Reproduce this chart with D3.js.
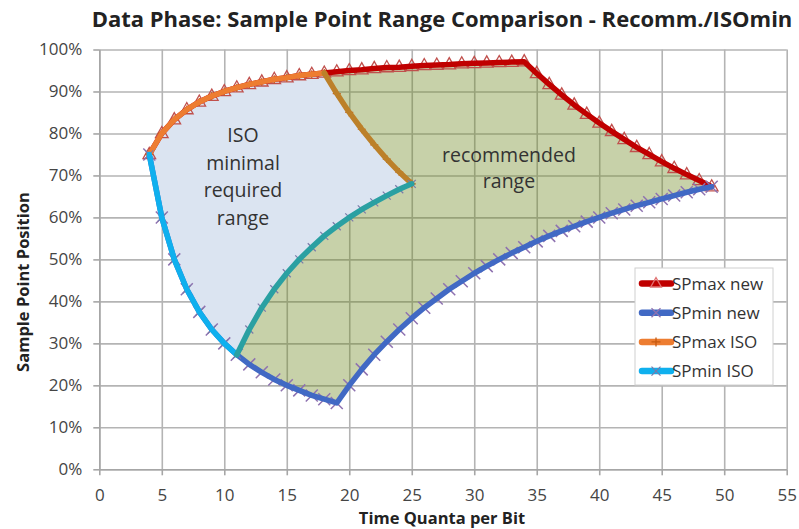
<!DOCTYPE html>
<html>
<head>
<meta charset="utf-8">
<script src="https://cdn.jsdelivr.net/npm/d3@7"></script>
<style>
body { margin: 0; background: #fff; }
text { font-family: "Open Sans", sans-serif; }
</style>
</head>
<body>
<div id="chart"></div>
<script>
// Time quanta per bit
var tqNew = [4,5,6,7,8,9,10,11,12,13,14,15,16,17,18,19,20,21,22,23,24,25,26,27,28,29,30,31,32,33,34,35,36,37,38,39,40,41,42,43,44,45,46,47,48,49];
var tqIso = [4,5,6,7,8,9,10,11,12,13,14,15,16,17,18,19,20,21,22,23,24,25];

// sample point, percent
var spMaxNew = [75.0,80.0,83.3,85.7,87.5,88.9,90.0,90.9,91.7,92.3,92.9,93.3,93.8,94.1,94.4,94.7,95.0,95.2,95.5,95.7,95.8,96.0,96.2,96.3,96.4,96.6,96.7,96.8,96.9,97.0,97.1,94.3,91.7,89.2,86.8,84.6,82.5,80.5,78.6,76.7,75.0,73.3,71.7,70.2,68.8,67.3];
var spMinNew = [75.0,60.0,50.0,42.9,37.5,33.3,30.0,27.3,25.0,23.1,21.4,20.0,18.8,17.6,16.7,15.8,20.0,23.8,27.3,30.4,33.3,36.0,38.5,40.7,42.9,44.8,46.7,48.4,50.0,51.5,52.9,54.3,55.6,56.8,57.9,59.0,60.0,61.0,61.9,62.8,63.6,64.4,65.2,66.0,66.7,67.3];
var spMaxIso = [75.0,80.0,83.3,85.7,87.5,88.9,90.0,90.9,91.7,92.3,92.9,93.3,93.8,94.1,94.4,89.5,85.0,81.0,77.3,73.9,70.8,68.0];
var spMinIso = [75.0,60.0,50.0,42.9,37.5,33.3,30.0,27.3,33.3,38.5,42.9,46.7,50.0,52.9,55.6,57.9,60.0,61.9,63.6,65.2,66.7,68.0];

var xTicks = [0,5,10,15,20,25,30,35,40,45,50,55];
var yTicks = [0,10,20,30,40,50,60,70,80,90,100];
var seriesNames = ["SPmax new","SPmin new","SPmax ISO","SPmin ISO"];
var isoLabel = ["ISO","minimal","required","range"];
var recLabel = ["recommended","range"];

var W = 799, H = 529;
var plotL = 99.3, plotR = 786.7, plotT = 49.5, plotB = 469.3;

var svg = d3.select("#chart").append("svg")
	.attr("width", W)
	.attr("height", H);

var x = d3.scaleLinear().domain([0, 55]).range([plotL, plotR]);
var y = d3.scaleLinear().domain([0, 100]).range([plotB, plotT]);

function pts(xs, ys) {
	return xs.map(function(d, i) { return [d, ys[i]]; });
}
var maxNew = pts(tqNew, spMaxNew),
	minNew = pts(tqNew, spMinNew),
	maxIso = pts(tqIso, spMaxIso),
	minIso = pts(tqIso, spMinIso);

var line = d3.line()
	.x(function(d) { return x(d[0]); })
	.y(function(d) { return y(d[1]); });

// gridlines
svg.append("g")
	.attr("transform", "translate(0," + plotB + ")")
	.call(d3.axisBottom(x).tickValues(xTicks).tickSize(-(plotB - plotT)).tickFormat(""))
	.call(function(g) { g.select(".domain").remove(); })
	.selectAll("line").attr("stroke", "#b4b4b4").attr("stroke-width", 1.6);

svg.append("g")
	.attr("transform", "translate(" + plotL + ",0)")
	.call(d3.axisLeft(y).tickValues(yTicks).tickSize(-(plotR - plotL)).tickFormat(""))
	.call(function(g) { g.select(".domain").remove(); })
	.selectAll("line").attr("stroke", "#b4b4b4").attr("stroke-width", 1.6);

// axes with labels
var xAxis = svg.append("g")
	.attr("transform", "translate(0," + plotB + ")")
	.call(d3.axisBottom(x).tickValues(xTicks).tickSize(6).tickPadding(14).tickSizeOuter(0));
var yAxis = svg.append("g")
	.attr("transform", "translate(" + plotL + ",0)")
	.call(d3.axisLeft(y).tickValues(yTicks).tickSize(6).tickPadding(11).tickSizeOuter(0)
		.tickFormat(function(d) { return d + "%"; }));

[xAxis, yAxis].forEach(function(a) {
	a.select(".domain").attr("stroke", "#a6a6a6").attr("stroke-width", 1.6);
	a.selectAll(".tick line").attr("stroke", "#a6a6a6").attr("stroke-width", 1.6);
	a.selectAll(".tick text")
		.attr("fill", "#454545")
		.style("font-family", "'Open Sans', sans-serif")
		.style("font-size", "17px");
});

// recommended range (green, see-through) then ISO range (light blue)
svg.append("path")
	.attr("d", line(maxNew.concat(minNew.slice().reverse())) + "Z")
	.attr("fill", "rgb(108,134,29)")
	.attr("fill-opacity", 0.38);

svg.append("path")
	.attr("d", line(maxIso.concat(minIso.slice().reverse())) + "Z")
	.attr("fill", "#dbe4f1");

// marker shapes
function tri(s) { return "M0," + (-s) + "L" + (s * 0.9) + "," + (s * 0.6) + "L" + (-s * 0.9) + "," + (s * 0.6) + "Z"; }
function cross(s) { return "M" + (-s) + "," + (-s) + "L" + s + "," + s + "M" + (-s) + "," + s + "L" + s + "," + (-s); }
function plus(s) { return "M0," + (-s) + "V" + s + "M" + (-s) + ",0H" + s; }

function markers(data, path, color, width) {
	svg.append("g").selectAll("path")
		.data(data)
		.enter().append("path")
		.attr("transform", function(d) { return "translate(" + x(d[0]) + "," + y(d[1]) + ")"; })
		.attr("d", path)
		.attr("fill", "none")
		.attr("stroke", color)
		.attr("stroke-width", width);
}
function drawLine(data, color) {
	svg.append("path")
		.attr("d", line(data))
		.attr("fill", "none")
		.attr("stroke", color)
		.attr("stroke-width", 5.5)
		.attr("stroke-linejoin", "round")
		.attr("stroke-linecap", "round");
}

// SPmax new
markers(maxNew, tri(7), "#c0504d", 1.3);
drawLine(maxNew, "#c00000");

// SPmin new
markers(minNew, cross(6), "#8e72b0", 1.5);
drawLine(minNew, "#4169c4");

// SPmax ISO: orange, browned where the green range covers it
markers(maxIso, plus(4), "#c55a11", 1.2);
drawLine(maxIso.filter(function(d) { return d[0] <= 18; }), "#ed7d31");
drawLine(maxIso.filter(function(d) { return d[0] >= 18; }), "#bc8029");

// SPmin ISO: light blue, teal where the green range covers it
markers(minIso, cross(4), "#7a7aa8", 1.2);
drawLine(minIso.filter(function(d) { return d[0] <= 11; }), "#0fb0ee");
drawLine(minIso.filter(function(d) { return d[0] >= 11; }), "#2aa0a2");

// area labels
svg.append("g").selectAll("text")
	.data(isoLabel)
	.enter().append("text")
	.attr("x", 243)
	.attr("y", function(d, i) { return 142 + i * 27.7; })
	.attr("text-anchor", "middle")
	.attr("fill", "#333")
	.style("font-size", "19.5px")
	.text(function(d) { return d; });

svg.append("g").selectAll("text")
	.data(recLabel)
	.enter().append("text")
	.attr("x", 509)
	.attr("y", function(d, i) { return 162 + i * 26; })
	.attr("text-anchor", "middle")
	.attr("fill", "#333")
	.style("font-size", "19.5px")
	.text(function(d) { return d; });

// legend
var legend = svg.append("g").attr("transform", "translate(635,268)");
legend.append("rect")
	.attr("width", 138).attr("height", 117)
	.attr("fill", "#fff")
	.attr("stroke", "#d0d0d0");

var legColors = ["#c00000", "#4169c4", "#ed7d31", "#0fb0ee"];
var legMarks = [
	{ d: tri(6), c: "#e07070" },
	{ d: cross(4.5), c: "#8e72b0" },
	{ d: plus(4.5), c: "#c55a11" },
	{ d: cross(4.5), c: "#7a7aa8" }
];
var row = legend.selectAll(".row")
	.data(seriesNames)
	.enter().append("g")
	.attr("class", "row")
	.attr("transform", function(d, i) { return "translate(0," + (15.5 + i * 29.2) + ")"; });
row.append("line")
	.attr("x1", 7).attr("x2", 36)
	.attr("stroke", function(d, i) { return legColors[i]; })
	.attr("stroke-width", 6.5)
	.attr("stroke-linecap", "round");
row.append("path")
	.attr("transform", "translate(21,0)")
	.attr("d", function(d, i) { return legMarks[i].d; })
	.attr("fill", "none")
	.attr("stroke", function(d, i) { return legMarks[i].c; })
	.attr("stroke-width", 1.3);
row.append("text")
	.attr("x", 37)
	.attr("y", 6)
	.attr("fill", "#333")
	.style("font-size", "17px")
	.text(function(d) { return d; });

// titles
svg.append("text")
	.attr("x", 442)
	.attr("y", 27)
	.attr("text-anchor", "middle")
	.attr("fill", "#222")
	.style("font-size", "22px")
	.style("font-weight", "bold")
	.text("Data Phase: Sample Point Range Comparison - Recomm./ISOmin");

svg.append("text")
	.attr("x", 442)
	.attr("y", 524)
	.attr("text-anchor", "middle")
	.attr("fill", "#222")
	.style("font-size", "16.5px")
	.style("font-weight", "bold")
	.text("Time Quanta per Bit");

svg.append("text")
	.attr("transform", "translate(29,282) rotate(-90)")
	.attr("text-anchor", "middle")
	.attr("fill", "#222")
	.style("font-size", "16.5px")
	.style("font-weight", "bold")
	.text("Sample Point Position");
</script>
</body>
</html>
